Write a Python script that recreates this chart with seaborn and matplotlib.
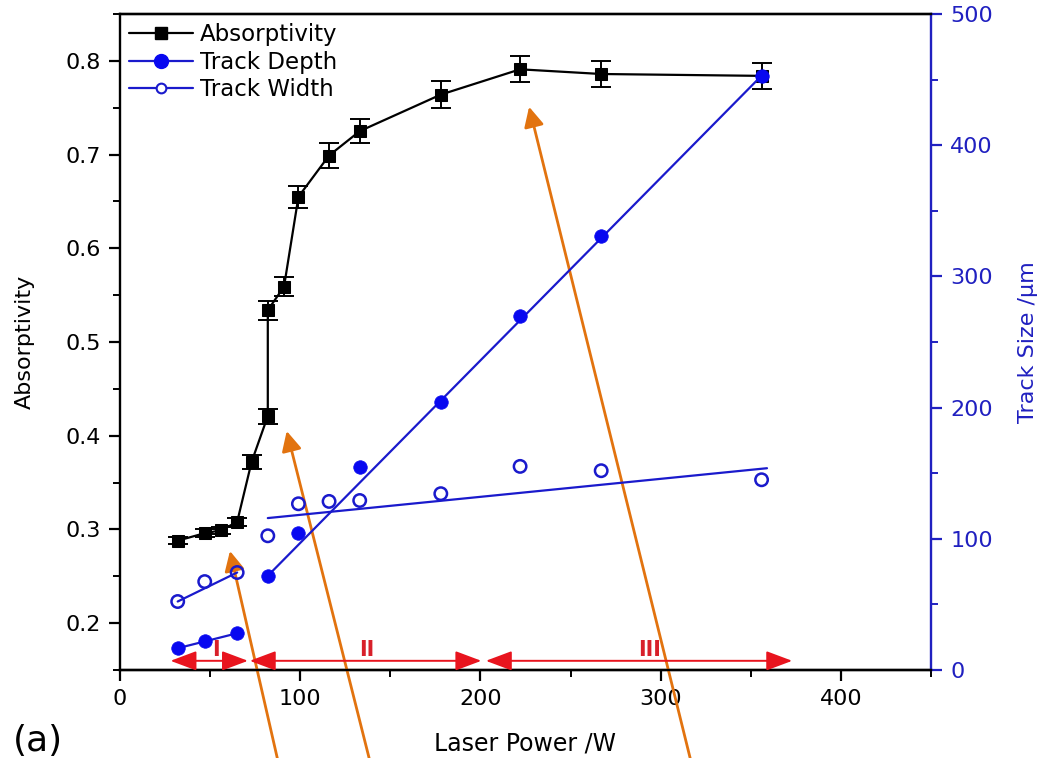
import matplotlib
matplotlib.use("Agg")
import matplotlib.pyplot as plt
from matplotlib.lines import Line2D
from matplotlib.ticker import MultipleLocator
import seaborn as sns

# Absorptivity vs. laser power (with measurement error)
power_abs = [32, 47, 56, 65, 73, 82, 82, 91, 99, 116, 133, 178, 222, 267, 356]
absorptivity = [0.288, 0.296, 0.299, 0.308, 0.372, 0.421, 0.534, 0.559, 0.655,
                0.699, 0.725, 0.764, 0.791, 0.786, 0.784]
abs_err = [0.004, 0.004, 0.004, 0.004, 0.007, 0.008, 0.010, 0.010, 0.012,
           0.013, 0.013, 0.014, 0.014, 0.014, 0.014]

# Melt track depth (um)
power_depth = [32, 47, 65, 82, 99, 133, 178, 222, 267, 356]
track_depth = [16.6, 22.4, 28.0, 71.8, 104.3, 154.7, 204.3, 270.0, 331.0, 453.0]

# Melt track width (um)
power_width = [32, 47, 65, 82, 99, 116, 133, 178, 222, 267, 356]
track_width = [52.2, 67.4, 74.3, 102.3, 126.7, 128.5, 129.2, 134.4, 155.2, 151.9, 145.0]

# Linear trend lines per regime
depth_fit_x1, depth_fit_y1 = [32, 65], [16.6, 28.0]
depth_fit_x2, depth_fit_y2 = [82, 356], [71.8, 453.0]
width_fit_x1, width_fit_y1 = [32, 65], [52.2, 74.3]
width_fit_x2, width_fit_y2 = [82, 359], [115.8, 153.8]

# Process regimes along the power axis
regime_names = ["I", "II", "III"]
regime_start = [28, 72, 203]
regime_end = [71, 200.5, 373]
regime_label_x = [53, 137, 294]

sns.set_theme(style="ticks")
plt.rcParams["font.family"] = ["DejaVu Sans"]
plt.rcParams.update({"text.color": "black", "axes.labelcolor": "black",
                     "xtick.color": "black", "ytick.color": "black"})

BLUE_LINE = "#1a1acc"
BLUE_MARK = "#0808f0"
BLUE_AXIS = "#2020c0"
RED = "#e8141e"
ORANGE = "#e2730f"

fig = plt.figure(figsize=(10.51, 7.58), dpi=100)
ax = fig.add_axes([0.1142, 0.1161, 0.7716, 0.8654])
ax2 = ax.twinx()

# ---- Absorptivity (left axis) ----
sns.lineplot(x=power_abs, y=absorptivity, ax=ax, sort=False, estimator=None,
             color="black", lw=1.6, marker="s", markersize=9,
             markeredgecolor="black", markerfacecolor="black", legend=False)
ax.errorbar(power_abs, absorptivity, yerr=abs_err, fmt="none", ecolor="black",
            elinewidth=1.4, capsize=7, capthick=1.4)

# ---- Track size (right axis) ----
for fx, fy in [(depth_fit_x1, depth_fit_y1), (depth_fit_x2, depth_fit_y2),
               (width_fit_x1, width_fit_y1), (width_fit_x2, width_fit_y2)]:
    sns.lineplot(x=fx, y=fy, ax=ax2, color=BLUE_LINE, lw=1.6, legend=False)

sns.scatterplot(x=power_depth, y=track_depth, ax=ax2, s=95, color=BLUE_MARK,
                edgecolor=BLUE_MARK, linewidth=0.5, zorder=4, legend=False)
sns.scatterplot(x=power_width, y=track_width, ax=ax2, s=80, facecolor="none",
                edgecolor=BLUE_LINE, linewidth=1.8, zorder=4, legend=False)

# Regime arrows and labels
for name, x0, x1, xl in zip(regime_names, regime_start, regime_end, regime_label_x):
    ax2.annotate("", xy=(x1, 7), xytext=(x0, 7),
                 arrowprops=dict(arrowstyle="<|-|>,head_length=0.8,head_width=0.3",
                                 color=RED, lw=1.4, mutation_scale=20,
                                 shrinkA=0, shrinkB=0))
    ax2.text(xl, 15, name, color="#d8202a", fontsize=15, fontweight="bold",
             ha="center", va="center")

# ---- Axes formatting ----
ax.set_xlim(0, 450)
ax.set_ylim(0.15, 0.85)
ax2.set_ylim(0, 500)

ax.xaxis.set_major_locator(MultipleLocator(100))
ax.xaxis.set_minor_locator(MultipleLocator(50))
ax.yaxis.set_minor_locator(MultipleLocator(0.05))
ax2.yaxis.set_major_locator(MultipleLocator(100))
ax2.yaxis.set_minor_locator(MultipleLocator(50))
ax.set_yticks([0.2, 0.3, 0.4, 0.5, 0.6, 0.7, 0.8])
ax.set_yticklabels(["0.2", "0.3", "0.4", "0.5", "0.6", "0.7", "0.8"])

for a in (ax, ax2):
    for s in a.spines.values():
        s.set_linewidth(1.7)
        s.set_color("black")
ax.spines["right"].set_visible(False)
ax2.spines["left"].set_visible(False)
ax2.spines["right"].set_color(BLUE_AXIS)
ax.spines["top"].set_color("#333333")

ax.tick_params(axis="both", which="major", direction="out", length=8, width=1.6,
               labelsize=16, color="black", labelcolor="black", pad=6)
ax.tick_params(axis="both", which="minor", direction="out", length=5, width=1.4,
               color="black")
ax.tick_params(axis="x", top=False, which="both")
ax2.tick_params(axis="y", which="major", direction="out", length=8, width=1.6,
                labelsize=16, colors=BLUE_AXIS, pad=6)
ax2.tick_params(axis="y", which="minor", direction="out", length=5, width=1.4,
                colors=BLUE_AXIS)

ax.set_xlabel("Laser Power /W", fontsize=17, labelpad=16)
ax.set_ylabel("Absorptivity", fontsize=16, labelpad=22)
ax2.set_ylabel("Track Size /\u03bcm", fontsize=16, color=BLUE_AXIS, labelpad=18)

# Legend
handles = [
    Line2D([], [], color="black", lw=1.6, marker="s", markersize=8),
    Line2D([], [], color=BLUE_LINE, lw=1.6, marker="o", markersize=10,
           markerfacecolor=BLUE_MARK, markeredgecolor=BLUE_MARK),
    Line2D([], [], color=BLUE_LINE, lw=1.6, marker="o", markersize=7,
           markerfacecolor="white", markeredgecolor=BLUE_LINE, markeredgewidth=1.5),
]
ax.legend(handles, ["Absorptivity", "Track Depth", "Track Width"], loc="upper left",
          frameon=False, fontsize=16.5, handlelength=2.8, handletextpad=0.3,
          labelspacing=0.2, borderaxespad=0.3, borderpad=0.1)

# Panel tag
fig.text(0.012, 0.0, "(a)", fontsize=26, ha="left", va="bottom")

# Pointers to the micrographs below the plot
for tip, tail_x in [((61, 0.277), 279 / 1051), ((92.5, 0.405), 371 / 1051),
                    ((227, 0.751), 692 / 1051)]:
    ax.annotate("", xy=tip, xycoords="data", xytext=(tail_x, -0.01),
                textcoords="figure fraction", annotation_clip=False,
                arrowprops=dict(arrowstyle="-|>,head_length=0.6,head_width=0.3",
                                color=ORANGE, lw=2.0, mutation_scale=20,
                                shrinkA=0, shrinkB=0), zorder=10)

fig.savefig("out.png", dpi=100)
